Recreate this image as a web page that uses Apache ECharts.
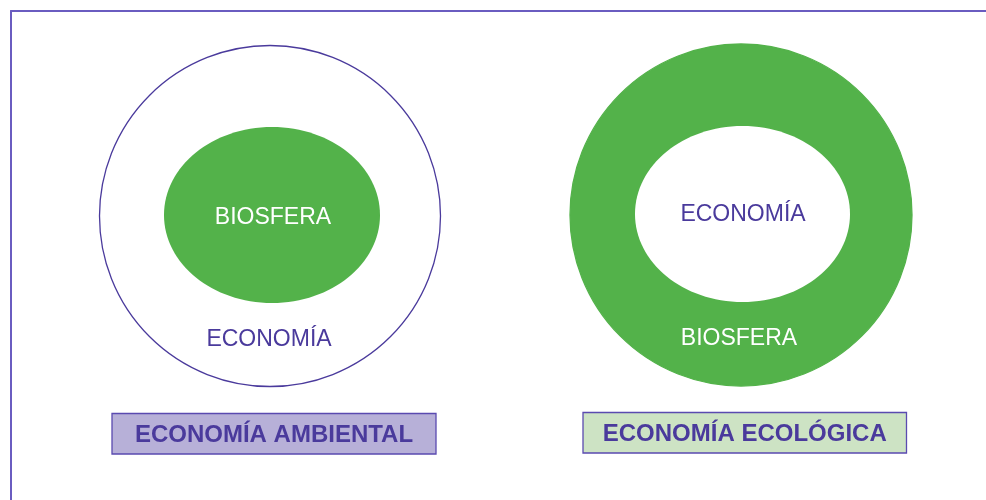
<!DOCTYPE html>
<html>
<head>
<meta charset="utf-8">
<script src="https://cdn.jsdelivr.net/npm/echarts@6/dist/echarts.min.js"></script>
<style>
html,body{margin:0;padding:0;background:#fff;}
#main{width:986px;height:500px;}
</style>
</head>
<body>
<div id="main"></div>
<script>
var chart = echarts.init(document.getElementById('main'));

// shapes in axis units (axis units == pixels here)
var outer_names = ['ECONOMÍA AMBIENTAL', 'ECONOMÍA ECOLÓGICA'];
var outer_cx = [270, 741];
var outer_cy = [216, 215];
var outer_r = [170.5, 171];
var inner_cx = [272, 742.5];
var inner_cy = [215, 214];
var inner_rx = [108, 107.5];
var inner_ry = [88, 88];
// labels
var label_text = ['BIOSFERA', 'ECONOMÍA', 'ECONOMÍA', 'BIOSFERA'];
var label_x = [273, 269, 743, 739];
var label_y = [218, 340, 215, 339];
// caption boxes [x0, y0, x1, y1]
var box_x0 = [112, 583];
var box_y0 = [413.5, 412.5];
var box_x1 = [436, 906.5];
var box_y1 = [454, 453];

var green = '#53b24a';
var purple = '#4a3a9c';
var frame = '#6a5cc0';
var box_fill = ['#b7b0d8', '#cde3c4'];
var outer_fill = ['#ffffff', green];
var outer_stroke = [purple, green];
var inner_fill = [green, '#ffffff'];
var label_color = ['#ffffff', purple, purple, '#ffffff'];

var shape_data = [];
for (var i = 0; i < outer_names.length; i++) {
    shape_data.push([outer_cx[i], outer_cy[i], outer_r[i], inner_cx[i], inner_cy[i], inner_rx[i], inner_ry[i], i]);
}
var label_data = [];
for (var i = 0; i < label_text.length; i++) {
    label_data.push([label_x[i], label_y[i], i]);
}
var box_data = [];
for (var i = 0; i < box_x0.length; i++) {
    box_data.push([box_x0[i], box_y0[i], box_x1[i], box_y1[i], i]);
}

function render_shapes(params, api) {
    var i = api.value(7);
    var c = api.coord([api.value(0), api.value(1)]);
    var r = api.size([api.value(2), api.value(2)]);
    var ic = api.coord([api.value(3), api.value(4)]);
    var ir = api.size([api.value(5), api.value(6)]);
    return {
        type: 'group',
        children: [
            {
                type: 'circle',
                shape: {cx: c[0], cy: c[1], r: r[0]},
                style: {fill: outer_fill[i], stroke: outer_stroke[i], lineWidth: 1.3}
            },
            {
                type: 'ellipse',
                shape: {cx: ic[0], cy: ic[1], rx: ir[0], ry: ir[1]},
                style: {fill: inner_fill[i]}
            }
        ]
    };
}

function render_boxes(params, api) {
    var i = api.value(4);
    var p0 = api.coord([api.value(0), api.value(1)]);
    var p1 = api.coord([api.value(2), api.value(3)]);
    return {
        type: 'group',
        children: [
            {
                type: 'rect',
                shape: {x: p0[0], y: p0[1], width: p1[0] - p0[0], height: p1[1] - p0[1]},
                style: {fill: box_fill[i], stroke: '#5a4ab0', lineWidth: 1.3}
            },
            {
                type: 'text',
                style: {
                    x: (p0[0] + p1[0]) / 2, y: (p0[1] + p1[1]) / 2 + 1.5,
                    text: outer_names[i], fill: purple,
                    font: 'bold 24px "Liberation Sans", Arial, sans-serif',
                    align: 'center', verticalAlign: 'middle'
                }
            }
        ]
    };
}

function render_labels(params, api) {
    var i = api.value(2);
    var p = api.coord([api.value(0), api.value(1)]);
    return {
        type: 'text',
        style: {
            x: p[0], y: p[1], text: label_text[i], fill: label_color[i],
            font: '23px "Liberation Sans", Arial, sans-serif',
            align: 'center', verticalAlign: 'middle'
        }
    };
}

chart.setOption({
    animation: false,
    backgroundColor: '#ffffff',
    grid: {left: 11, top: 11, right: 0, bottom: 0},
    xAxis: {
        type: 'value', min: 11, max: 986, position: 'top',
        axisLine: {show: true, onZero: false, lineStyle: {color: frame, width: 2}},
        axisTick: {show: false}, axisLabel: {show: false}, splitLine: {show: false}
    },
    yAxis: {
        type: 'value', min: 11, max: 500, inverse: true,
        axisLine: {show: true, onZero: false, lineStyle: {color: frame, width: 2}},
        axisTick: {show: false}, axisLabel: {show: false}, splitLine: {show: false}
    },
    series: [
        {type: 'custom', renderItem: render_shapes, data: shape_data, silent: true},
        {type: 'custom', renderItem: render_labels, data: label_data, silent: true},
        {type: 'custom', renderItem: render_boxes, data: box_data, silent: true}
    ]
});
</script>
</body>
</html>
